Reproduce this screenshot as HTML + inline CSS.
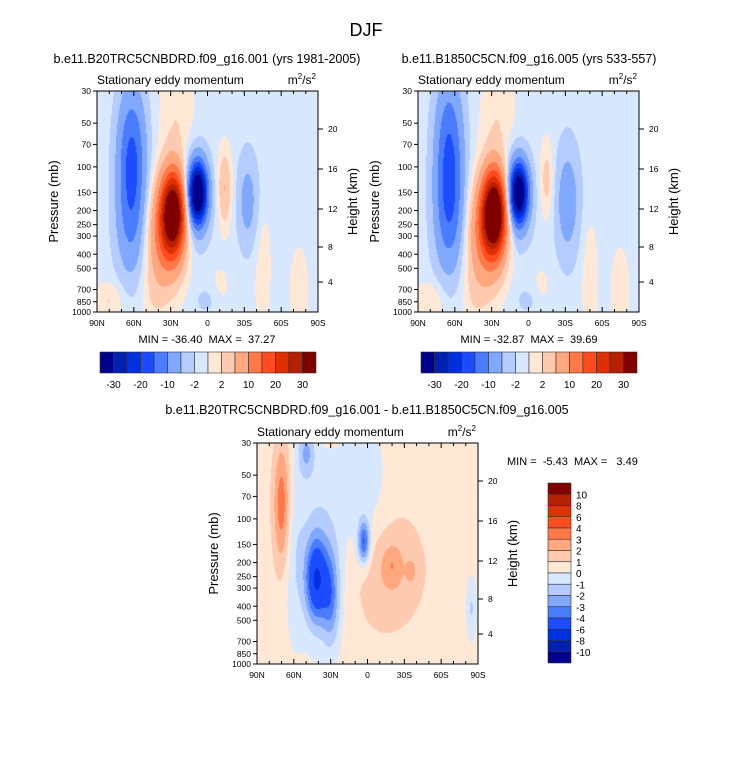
<!DOCTYPE html>
<html><head><meta charset="utf-8">
<style>
body{margin:0;background:#fff;}
#root{position:relative;width:733px;height:758px;overflow:hidden;font-family:"Liberation Sans",sans-serif;}
canvas{position:absolute;}
svg{position:absolute;left:0;top:0;}
svg text{white-space:pre;}
</style></head>
<body>
<div id="root">
<canvas id="c1" width="221" height="221" style="left:97px;top:91px"></canvas>
<canvas id="c2" width="221" height="221" style="left:418px;top:91px"></canvas>
<canvas id="c3" width="221" height="221" style="left:257px;top:443px"></canvas>
<svg id="s" width="733" height="758"></svg>
</div>
<script>
// ---- data ----
const pressureTicks=[30,50,70,100,150,200,250,300,400,500,700,850,1000];
const heightTicks=[20,16,12,8,4];
const heightOffsets=[38,78,118,156,191];
const latTicks=["90N","60N","30N","0","30S","60S","90S"];
const colors=["#00008a","#0020b0","#0030e0","#1c4cff","#4a7cff","#80a8ff","#b4ccff","#d8e8ff","#ffe8d6","#ffcbb0","#ffa880","#ff7848","#ff4c1e","#e03000","#b42000","#800000"];
const levels12=[-30,-25,-20,-15,-10,-5,-2,0,2,5,10,15,20,25,30];
const levelsDiff=[-10,-8,-6,-4,-3,-2,-1,0,1,2,3,4,6,8,10];
const cbLabels12=["-30","-20","-10","-2","2","10","20","30"];
const cbLabelIdx=[0,2,4,6,8,10,12,14];
// blobs: lat, vertical fraction (log-p), amplitude, sigma lat, sigma v
const lat1=[62,62,28,36,8,9,-14,-33,25,-45,80,-75,0,45,-10];
const lev1=[0.3,0.62,0.55,0.66,0.46,0.48,0.44,0.5,0.12,0.8,0.95,0.9,0.95,0.95,0.9];
const amp1=[-15,-7,37,11,-36,-8,6,-6,2.6,2.0,3,1.8,-2,1.5,1.5];
const sl1=[8,9,7,11,5,8,4,6,10,5,8,6,8,8,6];
const sv1=[0.22,0.18,0.13,0.17,0.09,0.14,0.12,0.15,0.18,0.2,0.06,0.15,0.05,0.1,0.08];
const base1=-0.8;
const lat2=[65,64,28,36,8,9,-15,-32,25,-50,80,0,45,-75,-10];
const lev2=[0.3,0.6,0.55,0.66,0.46,0.48,0.4,0.5,0.12,0.85,0.95,0.95,0.95,0.9,0.9];
const amp2=[-15,-7,40,11,-33,-8,4,-7,2.6,2.0,3,-2,1.5,1.8,1.5];
const sl2=[8,9,7,11,5,8,4,7,10,5,8,8,8,6,6];
const sv2=[0.25,0.18,0.13,0.17,0.09,0.14,0.12,0.18,0.18,0.2,0.06,0.05,0.1,0.15,0.08];
const base2=-0.8;
const lat3=[70,42,30,3,-20,-36,50,38,2,-85,-10,60,-20];
const lev3=[0.28,0.62,0.7,0.45,0.58,0.58,0.04,0.5,0.2,0.75,0.55,0.5,0.55];
const amp3=[3.3,-5.3,-3,-4.6,1.0,1.0,-2.4,-1.7,-1.3,-1.6,0.6,-1,1.1];
const sl3=[5,6,5,3.5,18,3,5,14,14,3,25,6,5];
const sv3=[0.2,0.13,0.15,0.07,0.15,0.04,0.08,0.3,0.22,0.1,0.3,0.3,0.06];
const base3=0.5;

const T=(lp)=>(Math.log(lp)-Math.log(30))/(Math.log(1000)-Math.log(30));
function field(la,lv,am,sla,sv,base,lat,v){let s=base;for(let i=0;i<la.length;i++){const dx=(lat-la[i])/sla[i],dy=(v-lv[i])/sv[i];s+=am[i]*Math.exp(-0.5*(dx*dx+dy*dy));}return s;}
function paint(id,la,lv,am,sla,sv,base,lev){
 const c=document.getElementById(id).getContext('2d');
 for(let y=0;y<221;y++)for(let x=0;x<221;x++){
  const lat=90-180*x/220,v=y/220;
  const f=field(la,lv,am,sla,sv,base,lat,v);
  let k=0;while(k<lev.length&&f>=lev[k])k++;
  c.fillStyle=colors[k];c.fillRect(x,y,1,1);}
}
paint('c1',lat1,lev1,amp1,sl1,sv1,base1,levels12);
paint('c2',lat2,lev2,amp2,sl2,sv2,base2,levels12);
paint('c3',lat3,lev3,amp3,sl3,sv3,base3,levelsDiff);

const S=document.getElementById('s');const NS='http://www.w3.org/2000/svg';
function el(t,a,txt){const e=document.createElementNS(NS,t);for(const k in a)e.setAttribute(k,a[k]);if(txt!==undefined)e.textContent=txt;S.appendChild(e);return e;}
function text(x,y,s,size,anchor,name,extra){const e=el('text',Object.assign({x:x,y:y,'font-size':size,'text-anchor':anchor||'start','font-family':'Liberation Sans, sans-serif'},extra||{}),s);


return e;}
function axes(x0,y0,tag){
 const W=221,H=221;
 const r=el('rect',{x:x0,y:y0,width:W,height:H,fill:'none',stroke:'#000','stroke-width':1});
 
 
 pressureTicks.forEach(p=>{const y=y0+T(p)*H;
  el('line',{x1:x0-4,x2:x0,y1:y,y2:y,stroke:'#000'});
  text(x0-6,y+3,String(p),8.5,'end','pressure-tick-label');});
 heightTicks.forEach((h,i)=>{const y=y0+heightOffsets[i];
  el('line',{x1:x0+W,x2:x0+W+5,y1:y,y2:y,stroke:'#000'});
  text(x0+W+10,y+3,String(h),8.5,'start','height-tick-label');});
 for(let i=0;i<=18;i++){const x=x0+W*i/18;const len=(i%3==0)?5:3;
  el('line',{x1:x,x2:x,y1:y0+H,y2:y0+H-len,stroke:'#000'});
  el('line',{x1:x,x2:x,y1:y0,y2:y0+len,stroke:'#000'});}
 latTicks.forEach((l,i)=>{text(x0+W*i/6,y0+H+14,l,8.5,'middle','latitude-tick-label');});
 text(x0,y0-7,'Stationary eddy momentum',12,'start','panel-subtitle');
 const u=text(x0+W-2,y0-7,'m',12,'end','units-label');
 u.innerHTML='m<tspan font-size="8" dy="-5">2</tspan><tspan dy="5">/s</tspan><tspan font-size="8" dy="-5">2</tspan>';
 text(0,0,'Pressure (mb)',13,'middle','y-axis-title',{transform:`translate(${x0-39},${y0+H/2}) rotate(-90)`});
 text(0,0,'Height (km)',13,'middle','y2-axis-title',{transform:`translate(${x0+W+39},${y0+H/2}) rotate(-90)`});
}
axes(97,91,'left');axes(418,91,'right');axes(257,443,'diff');
text(366,36,'DJF',18,'middle','figure-title');
text(207,63,'b.e11.B20TRC5CNBDRD.f09_g16.001 (yrs 1981-2005)',12.5,'middle','left-panel-title');
text(529,63,'b.e11.B1850C5CN.f09_g16.005 (yrs 533-557)',12.5,'middle','right-panel-title');
text(367,414,'b.e11.B20TRC5CNBDRD.f09_g16.001 - b.e11.B1850C5CN.f09_g16.005',12.5,'middle','difference-panel-title');
text(207,343,'MIN = -36.40  MAX =  37.27',11,'middle','left-min-max');
text(529,343,'MIN = -32.87  MAX =  39.69',11,'middle','right-min-max');
text(507,465,'MIN =  -5.43  MAX =   3.49',11,'start','diff-min-max');
function hbar(x0,tag){const y0=352,w=216/16;
 colors.forEach((c,i)=>{const r=el('rect',{x:x0+i*w,y:y0,width:w,height:21,fill:c,stroke:'#333','stroke-width':0.6});
  
  });
 cbLabelIdx.forEach((b,i)=>text(x0+(b+1)*w,y0+36,cbLabels12[i],10,'middle','colorbar-label'));
}
hbar(100,'left');hbar(421,'right');
const vy0=483,vh=180/16;
colors.slice().reverse().forEach((c,i)=>{const r=el('rect',{x:548,y:vy0+i*vh,width:23,height:vh,fill:c,stroke:'#333','stroke-width':0.6});
 
 });
levelsDiff.slice().reverse().forEach((v,i)=>text(576,vy0+(i+1)*vh+4,String(v),10,'start','diff-colorbar-label'));
</script>
</body></html>
